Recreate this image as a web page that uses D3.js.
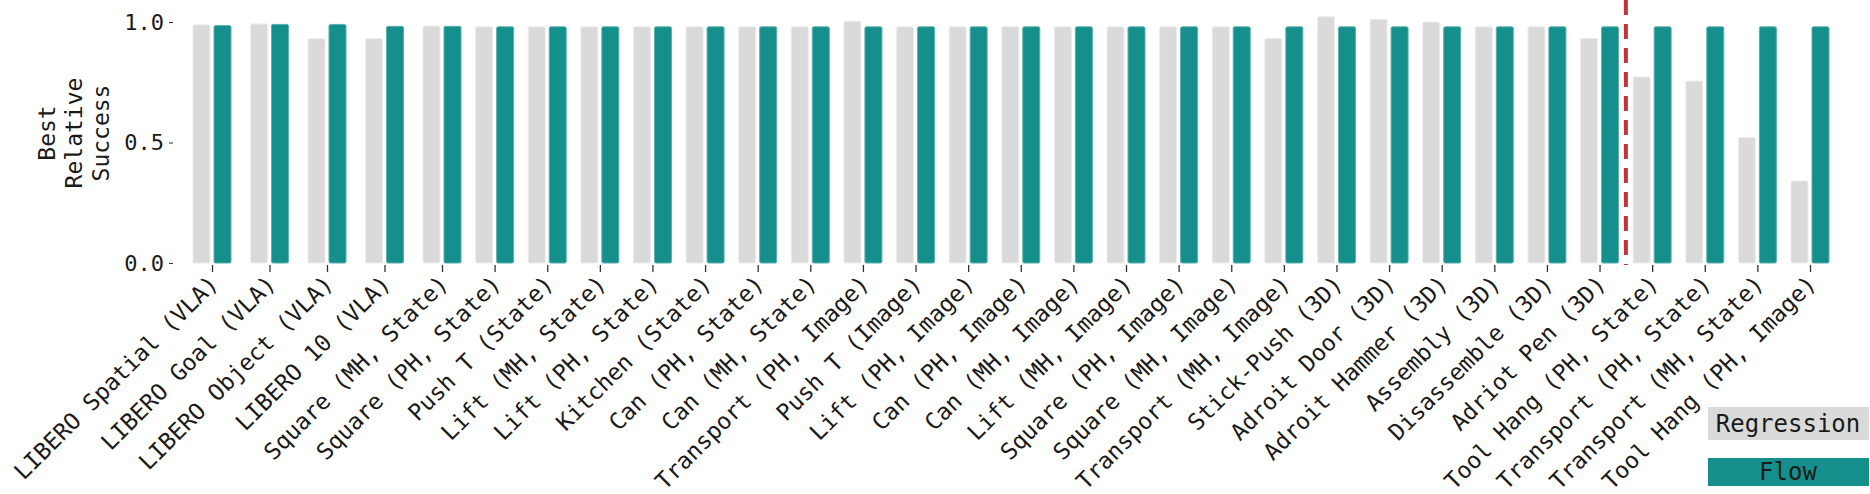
<!DOCTYPE html>
<html lang="en">
<head>
    <meta charset="UTF-8">
    <title>Best Relative Success</title>
    <script src="https://d3js.org/d3.v7.min.js"></script>
    <style>
        body {
            margin: 0;
            background: #fff;
            font-family: "DejaVu Sans Mono", monospace;
        }
        svg {
            display: block;
        }
    </style>
</head>
<body>
    <div id="container"></div>

    <script>
        // chart data
        const categories = [
            'LIBERO Spatial (VLA)', 'LIBERO Goal (VLA)', 'LIBERO Object (VLA)', 'LIBERO 10 (VLA)',
            'Square (MH, State)', 'Square (PH, State)', 'Push T (State)', 'Lift (MH, State)',
            'Lift (PH, State)', 'Kitchen (State)', 'Can (PH, State)', 'Can (MH, State)',
            'Transport (PH, Image)', 'Push T (Image)', 'Lift (PH, Image)', 'Can (PH, Image)',
            'Can (MH, Image)', 'Lift (MH, Image)', 'Square (PH, Image)', 'Square (MH, Image)',
            'Transport (MH, Image)', 'Stick-Push (3D)', 'Adroit Door (3D)', 'Adroit Hammer (3D)',
            'Assembly (3D)', 'Disassemble (3D)', 'Adriot Pen (3D)', 'Tool Hang (PH, State)',
            'Transport (PH, State)', 'Transport (MH, State)', 'Tool Hang (PH, Image)'
        ];
        const regression = [
            0.988, 0.992, 0.931, 0.931,
            0.983, 0.98, 0.98, 0.98,
            0.98, 0.98, 0.98, 0.98,
            1.003, 0.98, 0.98, 0.98,
            0.98, 0.98, 0.98, 0.98,
            0.932, 1.022, 1.011, 1.0,
            0.98, 0.98, 0.932, 0.772,
            0.755, 0.521, 0.34
        ];
        const flow = [
            0.985, 0.99, 0.99, 0.982,
            0.982, 0.98, 0.98, 0.98,
            0.98, 0.98, 0.98, 0.98,
            0.98, 0.98, 0.98, 0.98,
            0.98, 0.98, 0.98, 0.98,
            0.98, 0.98, 0.98, 0.98,
            0.98, 0.98, 0.98, 0.98,
            0.98, 0.98, 0.98
        ];
        const seriesNames = ['Regression', 'Flow'];
        const yTicks = [0, 0.5, 1.0];
        const yLabel = ['Best', 'Relative', 'Success'];
        // red dashed separator sits after this category
        const splitAfter = 'Adriot Pen (3D)';

        const width = 1870;
        const height = 494;

        const svg = d3.select('#container').append('svg')
            .attr('width', width)
            .attr('height', height);

        // category index -> center x (the VLA group is spaced a bit wider)
        const x = d3.scaleLinear()
            .domain([0, 4, categories.length - 1])
            .range([212, 442, 1810]);

        // offset of each series inside a group
        const xInner = d3.scaleBand()
            .domain(seriesNames)
            .range([-19, 19])
            .paddingInner(0.19);

        const y = d3.scaleLinear()
            .domain([0, 1])
            .range([263, 22]);

        const color = d3.scaleOrdinal()
            .domain(seriesNames)
            .range(['#dadada', '#148f8c']);

        const edge = d3.scaleOrdinal()
            .domain(seriesNames)
            .range(['#ececec', '#5cb0ad']);

        // table for bars
        const rows = [];
        categories.forEach((c, i) => {
            rows.push({ i: i, series: 'Regression', value: regression[i] });
            rows.push({ i: i, series: 'Flow', value: flow[i] });
        });

        svg.append('g')
            .selectAll('rect')
            .data(rows)
            .enter()
            .append('rect')
            .attr('x', d => x(d.i) + xInner(d.series))
            .attr('y', d => y(d.value))
            .attr('width', xInner.bandwidth())
            .attr('height', d => y(0) - y(d.value))
            .attr('rx', 1.5)
            .attr('fill', d => color(d.series))
            .attr('stroke', d => edge(d.series))
            .attr('stroke-width', 1);

        // y axis
        const yAxis = svg.append('g')
            .attr('transform', 'translate(173,0)')
            .call(d3.axisLeft(y).tickValues(yTicks).tickFormat(d3.format('.1f')).tickSize(4).tickPadding(5));
        yAxis.select('.domain').remove();
        yAxis.selectAll('.tick line').attr('stroke', '#333');
        yAxis.selectAll('.tick text')
            .attr('font-family', '"DejaVu Sans Mono", monospace')
            .attr('font-size', 22)
            .attr('fill', '#1a1a1a');

        // y axis title, three lines rotated
        svg.append('g')
            .selectAll('text')
            .data(yLabel)
            .enter()
            .append('text')
            .attr('transform', (d, i) => 'translate(' + (55 + i * 27) + ',133) rotate(-90)')
            .attr('text-anchor', 'middle')
            .attr('font-size', 23)
            .attr('fill', '#1a1a1a')
            .text(d => d);

        // x axis
        const xAxis = svg.append('g')
            .attr('transform', 'translate(0,265)')
            .call(d3.axisBottom(x)
                .tickValues(d3.range(categories.length))
                .tickFormat(i => categories[i])
                .tickSize(7)
                .tickPadding(4));
        xAxis.select('.domain').remove();
        xAxis.selectAll('.tick line').attr('stroke', '#333').attr('stroke-width', 1.3);
        xAxis.selectAll('.tick text')
            .attr('font-family', '"DejaVu Sans Mono", monospace')
            .attr('font-size', 23)
            .attr('fill', '#1a1a1a')
            .attr('text-anchor', 'end')
            .attr('dy', '0.7em')
            .attr('transform', 'translate(-12,1) rotate(-45)');

        // dashed separator
        const splitIdx = categories.indexOf(splitAfter);
        const splitX = (x(splitIdx) + x(splitIdx + 1)) / 2;
        svg.append('line')
            .attr('x1', splitX)
            .attr('x2', splitX)
            .attr('y1', 0)
            .attr('y2', 265)
            .attr('stroke', '#c0363a')
            .attr('stroke-width', 4)
            .attr('stroke-dasharray', '15,9');

        // legend
        const legend = svg.append('g')
            .selectAll('g')
            .data(seriesNames)
            .enter()
            .append('g')
            .attr('transform', (d, i) => 'translate(1708,' + (407 + i * 51) + ')');

        legend.append('rect')
            .attr('width', 161)
            .attr('height', (d, i) => i === 0 ? 33 : 28)
            .attr('fill', d => color(d));

        legend.append('text')
            .attr('x', 80)
            .attr('y', (d, i) => i === 0 ? 25 : 22)
            .attr('text-anchor', 'middle')
            .attr('font-size', 24)
            .attr('fill', '#1a1a1a')
            .text(d => d);
    </script>
</body>
</html>
